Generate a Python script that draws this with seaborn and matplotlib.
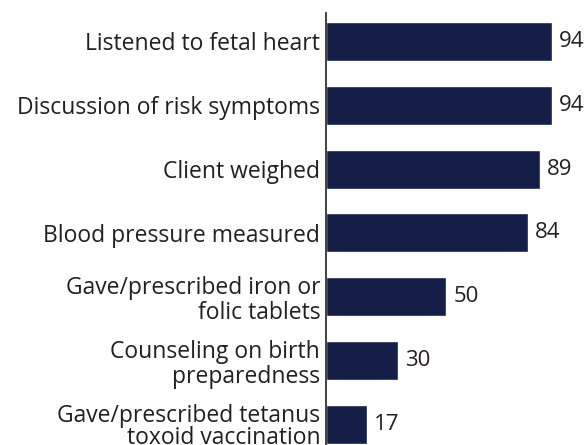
import matplotlib.pyplot as plt
import pandas as pd
import seaborn as sns

categories = [
    "Listened to fetal heart",
    "Discussion of risk symptoms",
    "Client weighed",
    "Blood pressure measured",
    "Gave/prescribed iron or\nfolic tablets",
    "Counseling on birth\npreparedness",
    "Gave/prescribed tetanus\ntoxoid vaccination",
]
percent = [94, 94, 89, 84, 50, 30, 17]

BAR_COLOR = "#141e46"
TEXT_COLOR = "#231f20"

sns.set_style("white")
plt.rcParams["font.family"] = ["Open Sans", "DejaVu Sans"]

df = pd.DataFrame({"category": categories, "percent": percent})

fig = plt.figure(figsize=(5.88, 4.45), dpi=100)
ax = fig.add_axes([0.554, 0.0, 0.41, 0.971])

sns.barplot(data=df, x="percent", y="category", orient="h",
            color=BAR_COLOR, saturation=1, width=0.61, ax=ax)

ax.set_xlim(0, 100)
ax.set_ylim(6.32, -0.445)

for container in ax.containers:
    ax.bar_label(container, padding=5, fontsize=16, color=TEXT_COLOR)

ax.set_xlabel("")
ax.set_ylabel("")
ax.set_xticks([])
ax.tick_params(axis="y", length=0, pad=4, labelsize=16.5, labelcolor=TEXT_COLOR)
ticklabels = ax.get_yticklabels()
for label in ticklabels:
    label.set_linespacing(1.05)
# bottom label sits against the figure edge, keep it a bit tighter
ticklabels[-1].set_linespacing(0.9)
for spine in ["top", "right", "bottom"]:
    ax.spines[spine].set_visible(False)
ax.spines["left"].set_color("#333333")
ax.spines["left"].set_linewidth(1.3)

fig.savefig("out.png", dpi=100)
